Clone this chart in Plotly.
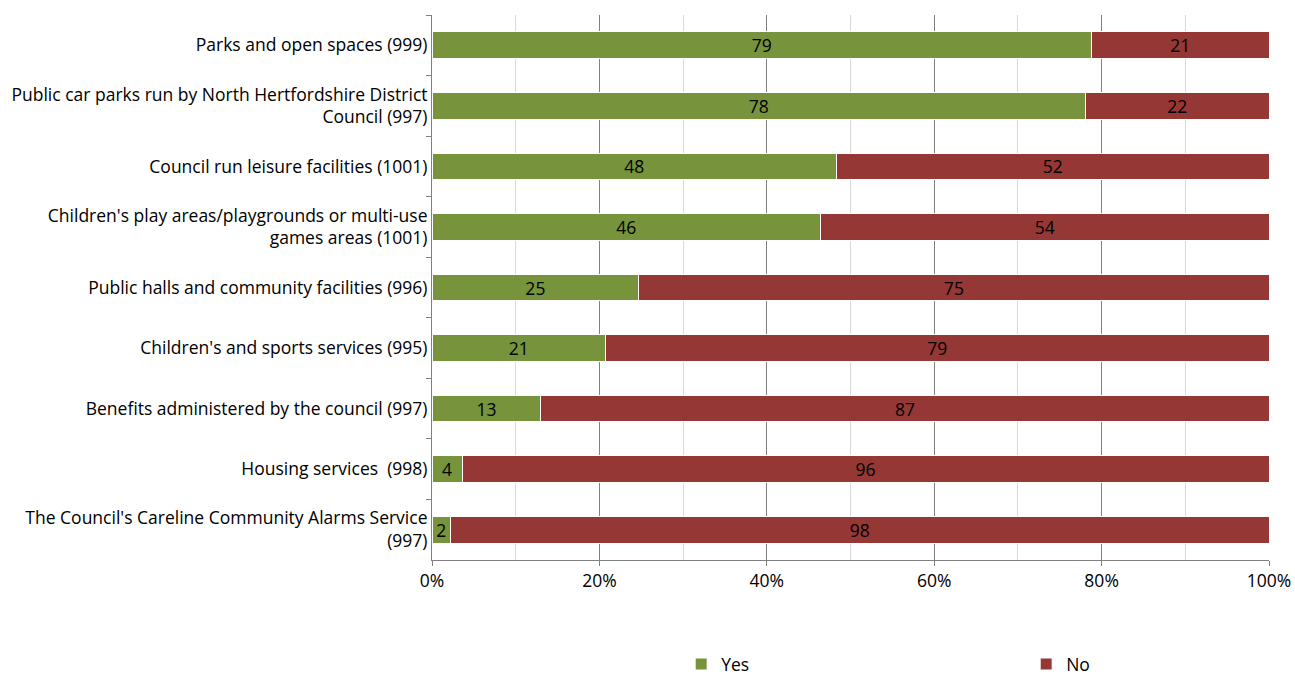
import plotly.graph_objects as go

categories = [
    "Parks and open spaces (999)",
    "Public car parks run by North Hertfordshire District<br>Council (997)",
    "Council run leisure facilities (1001)",
    "Children's play areas/playgrounds or multi-use<br>games areas (1001)",
    "Public halls and community facilities (996)",
    "Children's and sports services (995)",
    "Benefits administered by the council (997)",
    "Housing services  (998)",
    "The Council's Careline Community Alarms Service<br>(997)",
]
yes_values = [78.8, 78.1, 48.3, 46.4, 24.7, 20.7, 13.0, 3.6, 2.2]
no_values = [21.2, 21.9, 51.7, 53.6, 75.3, 79.3, 87.0, 96.4, 97.8]
x_ticks = [0, 20, 40, 60, 80, 100]
x_tick_labels = ["0%", "20%", "40%", "60%", "80%", "100%"]

FONT = "Open Sans"
FS = 17.5

fig = go.Figure()
fig.add_trace(go.Bar(
    y=categories, x=yes_values, name="Yes", orientation="h",
    marker=dict(color="#77933C", line=dict(color="#ffffff", width=1)),
    texttemplate="%{x:.0f}", textposition="inside", insidetextanchor="middle",
    textangle=0, constraintext="none",
    textfont=dict(color="#000000", size=FS, family=FONT),
))
fig.add_trace(go.Bar(
    y=categories, x=no_values, name="No", orientation="h",
    marker=dict(color="#953735", line=dict(color="#ffffff", width=1)),
    texttemplate="%{x:.0f}", textposition="inside", insidetextanchor="middle",
    textangle=0, constraintext="none",
    textfont=dict(color="#000000", size=FS, family=FONT),
))

fig.update_layout(
    barmode="stack",
    bargap=0.56,
    width=1295, height=675,
    margin=dict(l=432, r=26, t=15, b=115, autoexpand=False),
    plot_bgcolor="#ffffff", paper_bgcolor="#ffffff",
    font=dict(family=FONT, size=FS, color="#000000"),
    uniformtext=dict(mode="show", minsize=8),
    legend=dict(
        orientation="h", xref="container", yref="paper",
        x=0.526, y=-0.158, xanchor="left", yanchor="top",
        entrywidth=300, entrywidthmode="pixels",
        font=dict(size=FS, family=FONT),
        traceorder="normal",
    ),
    showlegend=True,
)
fig.update_xaxes(
    range=[0, 100], tickvals=x_ticks, ticktext=x_tick_labels,
    showgrid=True, gridcolor="#808080", gridwidth=1,
    minor=dict(dtick=10, tick0=0, showgrid=True, gridcolor="#d9d9d9", gridwidth=1),
    showline=True, linecolor="#808080", linewidth=1,
    ticks="outside", ticklen=5, tickcolor="#808080",
    zeroline=False, tickfont=dict(size=FS, family=FONT),
    fixedrange=True, automargin=False,
)
fig.update_yaxes(
    autorange="reversed", showline=True, linecolor="#808080", linewidth=1,
    ticks="outside", ticklen=5, tickcolor="#808080", tickson="boundaries",
    showgrid=False, tickfont=dict(size=FS, family=FONT),
    fixedrange=True, automargin=False,
)

fig.write_html(
    "out.html",
    config={"displayModeBar": False},
    post_script="document.body.style.margin='0';document.body.style.overflow='hidden';",
)
